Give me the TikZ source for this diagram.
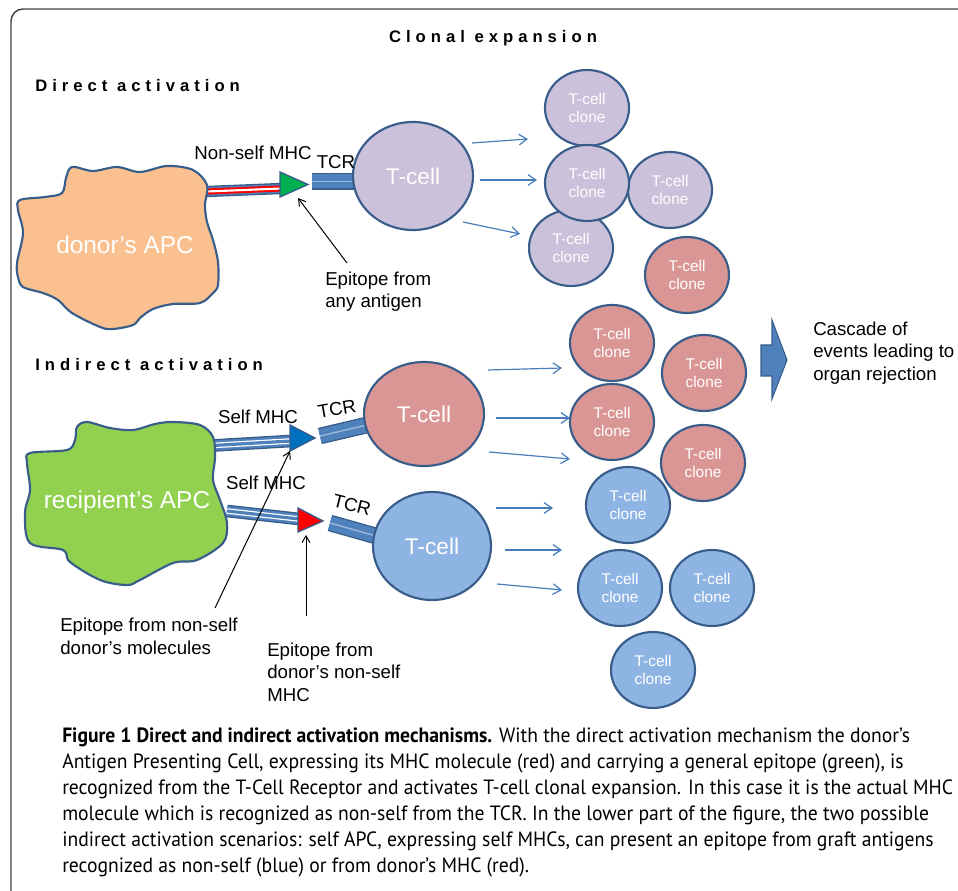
\documentclass[tikz,border=0pt]{standalone}
\usepackage{fontspec}
\setmainfont{Liberation Sans}
\newfontfamily\capfont[FakeStretch=0.95]{PT Sans}
\newfontfamily\headfont[LetterSpace=30]{Liberation Sans}
\usetikzlibrary{arrows.meta,shapes.geometric}
\definecolor{tdark}{HTML}{385D8A}
\definecolor{accent}{HTML}{4F81BD}
\definecolor{tarrow}{HTML}{4A7EBB}
\definecolor{tlav}{HTML}{CCC1DA}
\definecolor{tred}{HTML}{D99694}
\definecolor{tblue}{HTML}{8EB4E3}
\definecolor{apcorange}{HTML}{FAC090}
\definecolor{apcgreen}{HTML}{92D050}
\definecolor{epigreen}{HTML}{00B050}
\definecolor{epiblue}{HTML}{0070C0}
\definecolor{framegray}{HTML}{404040}

\begin{document}
\begin{tikzpicture}[x=0.75pt,y=-0.75pt,
    >={Straight Barb[length=5pt,width=6pt]},
    cellline/.style={draw=tdark,line width=1.6pt},
    tcell/.style={ellipse,cellline,text=white,inner sep=0pt,minimum width=90pt,minimum height=81pt,font=\fontsize{17}{20}\selectfont},
    clone/.style={ellipse,cellline,text=white,inner sep=0pt,minimum width=63pt,minimum height=57pt,align=center,font=\fontsize{11.6}{13.5}\selectfont},
    txt/.style={inner sep=0pt,align=left,font=\fontsize{14}{17}\selectfont},
    heading/.style={inner sep=0pt,font=\headfont\bfseries\fontsize{12.5}{14}\selectfont},
    apctext/.style={text=white,inner sep=0pt,font=\fontsize{18.3}{21}\selectfont},
    clonearrow/.style={->,draw=tarrow,line width=0.9pt,>={Straight Barb[length=6pt,width=8pt]}},
    epiarrow/.style={->,line width=0.75pt},
    tri/.style={draw=tdark,line width=1pt},
    mhcbar/.style={draw=accent,line width=6.5pt,preaction={draw=tdark,line width=8.5pt},
      postaction={draw=red,line width=1.5pt,double=white,double distance=1.6pt}},
    selfbar/.style={draw=accent,line width=7.5pt,preaction={draw=tdark,line width=9.5pt},
      postaction={draw=white,line width=0.9pt,double=accent,double distance=2.4pt}},
    tcrbar/.style={draw=accent,line width=10.5pt,preaction={draw=tdark,line width=12.5pt},
      postaction={draw=white!45!accent,line width=1pt}},
  ]
  \useasboundingbox (0,0) rectangle (958,891);
  \draw[draw=framegray,line width=1.1pt,rounded corners=9pt] (11,891) -- (11,9) -- (958,9);

  % headings
  \node[heading] (Title) at (493,38) {Clonal expansion};
  \node[heading,anchor=west] (DirHead) at (35,86) {Direct activation};
  \node[heading,anchor=west] (IndHead) at (35,365) {Indirect activation};

  % molecules
  \draw[mhcbar] (207,191.5) -- (281,188.5);
  \draw[selfbar] (213,445.5) -- (291,441);
  \draw[selfbar] (227,511) -- (299,519);
  \draw[tcrbar] (312,181.5) -- (358,181.5);
  \draw[tcrbar] (320,436) -- (367,425);
  \draw[tcrbar] (330,523) -- (376,536);

  % APCs
  \draw[cellline,fill=apcorange] plot[smooth cycle,tension=0.55] coordinates {
    (20,200) (45,197) (62,193) (66,178) (72,167) (93,171) (117,167) (140,172)
    (167,166) (193,170) (207,185) (205,205) (207,222) (213,240) (218,262)
    (218,285) (213,293) (200,303) (173,304) (153,309) (140,318) (133,325)
    (113,329) (100,327) (72,313) (58,300) (43,293) (23,287) (18,277) (17,263)
    (23,233) (18,210)};
  \node[apctext] (DonorAPC) at (125,245) {donor’s APC};
  \draw[cellline,fill=apcgreen] plot[smooth cycle,tension=0.55] coordinates {
    (30,453) (67,450) (75,440) (77,427) (87,422) (110,428) (133,430) (155,424)
    (173,422) (200,425) (213,437) (215,457) (213,480) (220,500) (227,523)
    (223,543) (197,560) (173,563) (140,580) (127,585) (100,580) (70,562)
    (63,550) (30,543) (25,513) (30,490) (27,463)};
  \node[apctext] (RecipAPC) at (127,502) {recipient’s APC};

  % epitopes
  \draw[tri,fill=epigreen] (280,172) -- (280,197) -- (308,184.5) -- cycle;
  \draw[tri,fill=epiblue] (290,425) -- (290,451) -- (315,438) -- cycle;
  \draw[tri,fill=red] (298,508) -- (298,532) -- (323,521) -- cycle;
  \coordinate (DEpiTip) at (298,198);
  \coordinate (SelfEpiTip) at (290,451);
  \coordinate (DonEpiTip) at (306,535);

  % T-cells
  \node[tcell,fill=tlav] (DCell) at (413,176) {T-cell};
  \node[tcell,fill=tred,minimum height=78pt] (ICellA) at (424,414) {T-cell};
  \node[tcell,fill=tblue,minimum width=88.5pt] (ICellB) at (432,546) {T-cell};

  \node[txt,anchor=center] (NonSelf) at (253,153) {Non-self MHC};
  \node[txt] (TcrD) at (336,162) {TCR};
  \node[txt,rotate=10] (TcrA) at (337,409) {TCR};
  \node[txt,rotate=-14] (TcrB) at (352,505) {TCR};
  \node[txt] (SelfA) at (258,417) {Self MHC};
  \node[txt] (SelfB) at (266,483) {Self MHC};

  \node[txt,anchor=west,font=\fontsize{14}{16.5}\selectfont] (EpiAny) at (325,292) {Epitope from\\any antigen};
  \node[txt,anchor=west] (EpiSelf) at (60,636) {Epitope from non-self\\donor’s molecules};
  \node[txt,anchor=west] (EpiDonor) at (267,672) {Epitope from\\donor’s non-self\\MHC};
  \coordinate (EpiAnyTail) at (347,263);
  \coordinate (EpiSelfTail) at (215,608);
  \coordinate (EpiDonorTail) at (306,616);
  \draw[epiarrow] (EpiAnyTail) -- (DEpiTip);
  \draw[epiarrow] (EpiSelfTail) -- (SelfEpiTip);
  \draw[epiarrow] (EpiDonorTail) -- (DonEpiTip);

  % clones
  \foreach \n/\x/\y/\c in {1/587/108/tlav, 4/571/248/tlav, 3/670/190/tlav, 2/587/183/tlav,
      5/687/275/tred, 6/612/343/tred, 7/704/373/tred, 8/612/422/tred, 9/703/463/tred,
      10/628/505/tblue, 11/620/588/tblue, 12/712/588/tblue, 13/653/670/tblue}
    \node[clone,fill=\c] (Clone\n) at (\x,\y) {T-cell\\clone};

  \foreach \dx/\dy/\lx/\ly in {59/-33/56/-4, 67/4/57/0, 50/46/57/12}
    \draw[clonearrow] ([shift={(\dx,\dy)}]DCell.center) -- ++(\lx,\ly);
  \foreach \dx/\dy/\lx/\ly in {64/-44/74/-2, 72/4/74/0, 65/38/81/7}
    \draw[clonearrow] ([shift={(\dx,\dy)}]ICellA.center) -- ++(\lx,\ly);
  \foreach \dx/\dy/\lx/\ly in {64/-38/57/0, 73/4/57/0, 65/38/65/6}
    \draw[clonearrow] ([shift={(\dx,\dy)}]ICellB.center) -- ++(\lx,\ly);

  % cascade
  \draw[draw=tdark,fill=accent,line width=0.8pt] (761,345) -- (772,345) -- (772,320) -- (787,360)
    -- (772,399) -- (772,376) -- (761,376) -- cycle;
  \node[txt,anchor=west,font=\fontsize{14}{16.9}\selectfont] (Cascade) at (813,353) {Cascade of\\events leading to\\organ rejection};

  \node[anchor=west,inner sep=0pt,align=left,font=\capfont\fontsize{15.5}{19.5}\selectfont] (Caption) at (62,802)
    {\textbf{Figure 1 Direct and indirect activation mechanisms.} With the direct activation mechanism the donor’s\\
     Antigen Presenting Cell, expressing its MHC molecule (red) and carrying a general epitope (green), is\\
     recognized from the T-Cell Receptor and activates T-cell clonal expansion. In this case it is the actual MHC\\
     molecule which is recognized as non-self from the TCR. In the lower part of the figure, the two possible\\
     indirect activation scenarios: self APC, expressing self MHCs, can present an epitope from graft antigens\\
     recognized as non-self (blue) or from donor’s MHC (red).};
\end{tikzpicture}
\end{document}
